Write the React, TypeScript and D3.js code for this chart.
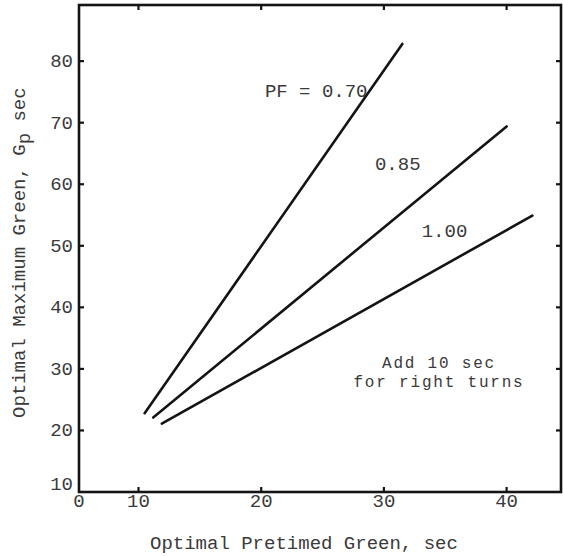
import React from "react";
import * as d3 from "d3";

// Optimal maximum green vs. optimal pretimed green, one line per PF value
const pfLabels = ["PF = 0.70", "0.85", "1.00"];
const lineStartX = [10.5, 11.2, 11.9];
const lineStartY = [22.8, 22.1, 21.1];
const lineEndX = [31.5, 40.0, 42.1];
const lineEndY = [82.8, 69.4, 54.9];

// label anchors in data units
const labelX = [20.3, 29.27, 33.08];
const labelY = [74.2, 62.3, 51.4];

const xTicks = [10, 20, 30, 40];
const xTickLabels = ["0", "10", "20", "30", "40"];
const xTickLabelValues = [0, 10, 20, 30, 40];
const yTicks = [20, 30, 40, 50, 60, 70, 80];
const yTickLabelValues = [10, 20, 30, 40, 50, 60, 70, 80];

const noteLines = ["Add 10 sec", "for right turns"];
const noteX = 34.49;
const noteY = [30.15, 27.06];

const W = 563;
const H = 557;
const left = 79;
const right = 561;
const top = 5;
const bottom = 492;

const FONT = "'Liberation Mono', 'DejaVu Sans Mono', monospace";
const INK = "#141414";
const TEXT = "#3a3a3a";

export default function App() {
  // x axis: origin labelled 0 but the linear part starts at 10
  const xMax = 10 + (right - 138.5) / 12.27;
  const x = d3.scaleLinear().domain([0, 10, xMax]).range([left, 138.5, right]);
  const yMax = 10 + (bottom - top) / 6.155;
  const y = d3.scaleLinear().domain([10, yMax]).range([bottom, top]);

  const line = d3
    .line<[number, number]>()
    .x((d) => x(d[0]))
    .y((d) => y(d[1]));

  const series = lineStartX.map(
    (_, i) =>
      [
        [lineStartX[i], lineStartY[i]],
        [lineEndX[i], lineEndY[i]],
      ] as [number, number][]
  );

  const tick = 5;

  return (
    <svg
      width={W}
      height={H}
      style={{ position: "absolute", left: 0, top: 0, background: "#fff" }}
    >
      <rect x={0} y={0} width={W} height={H} fill="#fff" />

      {/* frame */}
      <rect
        x={left}
        y={top}
        width={right - left}
        height={bottom - top}
        fill="none"
        stroke={INK}
        strokeWidth={2.6}
      />

      {/* inward ticks on all four sides */}
      {xTicks.map((t) => (
        <g key={"xt" + t}>
          <line x1={x(t)} x2={x(t)} y1={bottom} y2={bottom - tick} stroke={INK} strokeWidth={2.2} />
          <line x1={x(t)} x2={x(t)} y1={top} y2={top + tick} stroke={INK} strokeWidth={2.2} />
        </g>
      ))}
      {yTicks.map((t) => (
        <g key={"yt" + t}>
          <line x1={left} x2={left + tick} y1={y(t)} y2={y(t)} stroke={INK} strokeWidth={2.2} />
          <line x1={right} x2={right - tick} y1={y(t)} y2={y(t)} stroke={INK} strokeWidth={2.2} />
        </g>
      ))}

      {/* tick labels */}
      <g fontFamily={FONT} fontSize={19} fill={TEXT}>
        {xTickLabelValues.map((v, i) => (
          <text key={"xl" + v} x={x(v)} y={bottom + 15} textAnchor="middle">
            {xTickLabels[i]}
          </text>
        ))}
        {yTickLabelValues.map((v) => (
          <text
            key={"yl" + v}
            x={left - 6}
            y={y(v) + (v === 10 ? -2 : 6)}
            textAnchor="end"
          >
            {v}
          </text>
        ))}
      </g>

      {/* PF lines */}
      {series.map((s, i) => (
        <path
          key={"s" + i}
          d={line(s) || ""}
          fill="none"
          stroke={INK}
          strokeWidth={2.6}
          strokeLinecap="round"
        />
      ))}

      {/* line labels and note */}
      <g fontFamily={FONT} fontSize={19} fill={TEXT}>
        {pfLabels.map((l, i) => (
          <text key={"pl" + i} x={x(labelX[i])} y={y(labelY[i])} style={{ whiteSpace: "pre" }}>
            {l}
          </text>
        ))}
      </g>
      <g fontFamily={FONT} fontSize={16} letterSpacing={1.8} fill={TEXT}>
        {noteLines.map((l, i) => (
          <text key={"nl" + i} x={x(noteX)} y={y(noteY[i])} textAnchor="middle">
            {l}
          </text>
        ))}
      </g>

      {/* axis titles */}
      <text
        x={150}
        y={549}
        fontFamily={FONT}
        fontSize={19}
        fill={TEXT}
      >
        Optimal Pretimed Green, sec
      </text>
      <text
        transform="translate(25,418) rotate(-90)"
        fontFamily={FONT}
        fontSize={19}
        fill={TEXT}
      >
        Optimal Maximum Green, G
        <tspan dy={5}>p</tspan>
        <tspan dy={-5}> sec</tspan>
      </text>
    </svg>
  );
}
